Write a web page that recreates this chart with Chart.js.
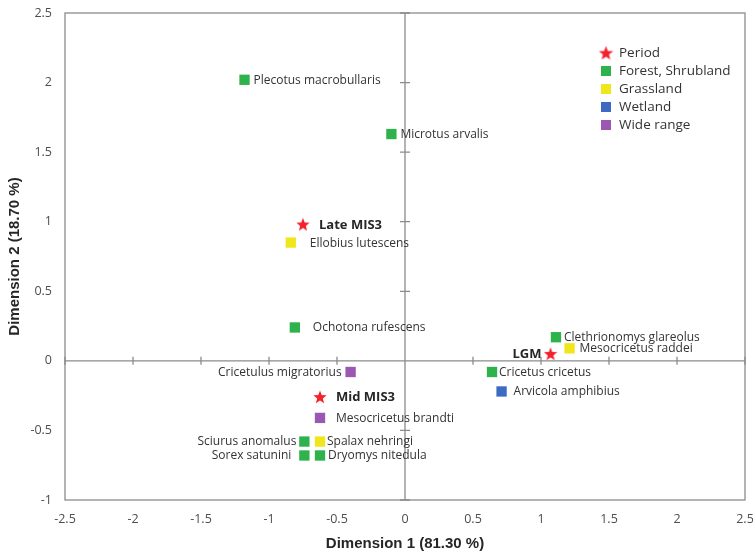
<!DOCTYPE html>
<html>
<head>
<meta charset="utf-8">
<script src="https://cdn.jsdelivr.net/npm/chart.js@4.4.1/dist/chart.umd.min.js"></script>
<style>
  html, body { margin: 0; padding: 0; background: #fff; }
  #wrap { width: 753px; height: 553px; position: relative; }
</style>
</head>
<body>
<div id="wrap"><canvas id="pcaChart"></canvas></div>
<script>
// groups (legend order) and their colours
const groups = ["Period", "Forest, Shrubland", "Grassland", "Wetland", "Wide range"];
const groupColors = ["#f5202e", "#2eb34c", "#f0e61c", "#3d6bc3", "#9b57b1"];

// points
const names = [
  "Late MIS3", "Mid MIS3", "LGM",
  "Plecotus macrobullaris", "Microtus arvalis", "Ellobius lutescens", "Ochotona rufescens",
  "Clethrionomys glareolus", "Mesocricetus raddei", "Cricetus cricetus", "Arvicola amphibius",
  "Cricetulus migratorius", "Mesocricetus brandti", "Sciurus anomalus", "Spalax nehringi",
  "Sorex satunini", "Dryomys nitedula"
];
const dim1 = [-0.75, -0.625, 1.07, -1.18, -0.10, -0.84, -0.81, 1.11, 1.21, 0.64, 0.71, -0.40, -0.625, -0.74, -0.625, -0.74, -0.625];
const dim2 = [0.98, -0.26, 0.05, 2.02, 1.63, 0.85, 0.24, 0.17, 0.09, -0.08, -0.22, -0.08, -0.41, -0.58, -0.58, -0.68, -0.68];
const groupOf = [0, 0, 0, 1, 1, 2, 1, 1, 2, 1, 3, 4, 4, 1, 2, 1, 1];

// label placement: side and distance from the marker centre
const labelSide = ["r", "r", "l", "r", "r", "r", "r", "r", "r", "r", "r", "l", "r", "l", "r", "l", "r"];
const labelGap = [16, 16, 9, 9, 9, 19, 18, 8, 10, 7, 12, 9, 16, 8, 7, 13, 8];

const xTicks = [-2.5, -2, -1.5, -1, -0.5, 0, 0.5, 1, 1.5, 2, 2.5];
const yTicks = [-1, -0.5, 0, 0.5, 1, 1.5, 2, 2.5];

// red five-point star used for the period markers
function makeStar(size, color) {
  const c = document.createElement("canvas");
  c.width = size; c.height = size;
  const g = c.getContext("2d");
  const cx = size / 2, cy = size / 2 + 0.5, R = size / 2, r = R * 0.42;
  g.beginPath();
  for (let i = 0; i < 10; i++) {
    const a = -Math.PI / 2 + i * Math.PI / 5;
    const rad = i % 2 === 0 ? R : r;
    g.lineTo(cx + rad * Math.cos(a), cy + rad * Math.sin(a));
  }
  g.closePath();
  g.fillStyle = color;
  g.fill();
  return c;
}
const star = makeStar(14, groupColors[0]);
const legendStar = makeStar(15, groupColors[0]);

const datasets = groups.map((gName, gi) => {
  const pts = [];
  names.forEach((n, i) => {
    if (groupOf[i] === gi) pts.push({ x: dim1[i], y: dim2[i], idx: i });
  });
  return {
    label: gName,
    data: pts,
    pointStyle: gi === 0 ? star : "rect",
    pointRadius: 7.3,
    backgroundColor: groupColors[gi],
    borderColor: groupColors[gi],
    borderWidth: 0
  };
});

const FONT = "'Open Sans', sans-serif";

// box, zero axes with crossing tick marks
const axesPlugin = {
  id: "zeroAxes",
  beforeDatasetsDraw(chart) {
    const { ctx, chartArea: a, scales } = chart;
    const x0 = scales.x.getPixelForValue(0);
    const y0 = scales.y.getPixelForValue(0);
    ctx.save();
    ctx.strokeStyle = "#8c8c8c";
    ctx.lineWidth = 1.3;
    ctx.strokeRect(a.left, a.top, a.right - a.left, a.bottom - a.top);
    ctx.beginPath();
    ctx.moveTo(a.left, y0); ctx.lineTo(a.right, y0);
    ctx.moveTo(x0, a.top); ctx.lineTo(x0, a.bottom);
    xTicks.forEach(v => {
      const px = scales.x.getPixelForValue(v);
      ctx.moveTo(px, y0 - 4); ctx.lineTo(px, y0 + 4);
    });
    yTicks.forEach(v => {
      const py = scales.y.getPixelForValue(v);
      ctx.moveTo(x0 - 5, py); ctx.lineTo(x0 + 5, py);
    });
    ctx.stroke();
    ctx.restore();
  }
};

// point labels and legend
const labelPlugin = {
  id: "pointLabels",
  afterDatasetsDraw(chart) {
    const { ctx, chartArea: a } = chart;
    ctx.save();
    ctx.textBaseline = "middle";
    chart.data.datasets.forEach((ds, di) => {
      const meta = chart.getDatasetMeta(di);
      meta.data.forEach((el, j) => {
        const i = ds.data[j].idx;
        const right = labelSide[i] === "r";
        ctx.font = groupOf[i] === 0 ? "bold 13px " + FONT : "12px " + FONT;
        ctx.fillStyle = groupOf[i] === 0 ? "#262626" : "#333";
        ctx.textAlign = right ? "left" : "right";
        ctx.fillText(names[i], el.x + (right ? labelGap[i] : -labelGap[i]), el.y + 0.5);
      });
    });

    // legend, top right inside the plot
    const lx = a.right - 139, ly = a.top + 40, step = 18;
    ctx.font = "13.5px " + FONT;
    ctx.textAlign = "left";
    groups.forEach((gName, gi) => {
      const cy = ly + gi * step;
      if (gi === 0) {
        ctx.drawImage(legendStar, lx - 7.5, cy - 7.5);
      } else {
        ctx.fillStyle = groupColors[gi];
        ctx.fillRect(lx - 5, cy - 5, 10, 10);
      }
      ctx.fillStyle = "#333";
      ctx.fillText(gName, lx + 13, cy + 0.5);
    });
    ctx.restore();
  }
};

new Chart(document.getElementById("pcaChart"), {
  type: "scatter",
  data: { datasets },
  options: {
    responsive: true,
    maintainAspectRatio: false,
    animation: false,
    layout: { padding: { top: 13, right: 8, left: 0, bottom: 0 } },
    plugins: { legend: { display: false }, tooltip: { enabled: false } },
    scales: {
      x: {
        type: "linear",
        min: -2.5, max: 2.5,
        afterBuildTicks: s => { s.ticks = xTicks.map(v => ({ value: v })); },
        afterFit: s => { s.height = 53; s.paddingLeft = 0; s.paddingRight = 0; },
        grid: { display: false },
        border: { display: false },
        ticks: {
          color: "#4d4d4d", font: { family: FONT, size: 12.5 }, padding: 4, maxRotation: 0,
          callback: v => String(v)
        },
        title: {
          display: true, text: "Dimension 1 (81.30 %)", color: "#262626",
          font: { family: "'Liberation Sans', Arial, sans-serif", size: 15, weight: "bold" },
          padding: { top: 4, bottom: 0 }
        }
      },
      y: {
        type: "linear",
        min: -1, max: 2.5,
        afterBuildTicks: s => { s.ticks = yTicks.map(v => ({ value: v })); },
        afterFit: s => { s.width = 65; s.paddingTop = 0; s.paddingBottom = 0; },
        grid: { display: false },
        border: { display: false },
        ticks: {
          color: "#4d4d4d", font: { family: FONT, size: 12.5 }, padding: 5,
          callback: v => String(v)
        },
        title: {
          display: true, text: "Dimension 2 (18.70 %)", color: "#262626",
          font: { family: "'Liberation Sans', Arial, sans-serif", size: 15, weight: "bold" },
          padding: { top: 6, bottom: 0 }
        }
      }
    }
  },
  plugins: [axesPlugin, labelPlugin]
});
</script>
</body>
</html>
